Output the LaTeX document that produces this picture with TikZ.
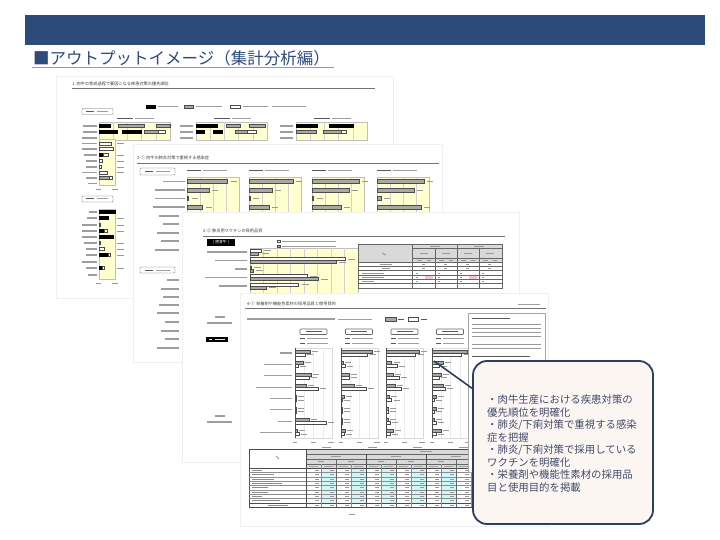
\documentclass[tikz,border=0pt]{standalone}
\usepackage{fontspec}
\setmainfont{Noto Sans CJK JP}
\definecolor{banner}{HTML}{2C4A7C}
\definecolor{ttl}{HTML}{2F4B7C}
\definecolor{uline}{HTML}{8D9BB5}
\definecolor{cfill}{HTML}{FCF6F2}
\definecolor{cedge}{HTML}{2B3E63}
\definecolor{ctext}{HTML}{404B69}
\definecolor{pyel}{HTML}{FFFFD0}
\definecolor{bargray}{HTML}{A8A8A8}
\definecolor{cyancell}{HTML}{CFF7F7}
\definecolor{pinkcell}{HTML}{F7C4CC}
\definecolor{hdr}{HTML}{D9D9D9}
\tikzset{
  pagebox/.style={fill=white, draw=black!6, line width=0.6pt},
  ink/.style={draw=black!38, line width=1.3pt},
  inkd/.style={draw=black!65, line width=1.3pt},
  inkt/.style={draw=black!40, line width=0.9pt},
  secline/.style={draw=black!55, line width=1.3pt},
  yelpanel/.style={fill=pyel, draw=black!25, line width=0.3pt},
  gridl/.style={draw=black!18, line width=0.3pt},
  gbar/.style={fill=bargray, draw=black!70, line width=0.4pt},
  wbar/.style={fill=white, draw=black!70, line width=0.4pt},
  kbar/.style={fill=black, draw=black, line width=0.4pt},
  tinytxt/.style={font=\fontsize{4.2}{5}\selectfont, text=black!75, inner sep=0pt, anchor=base west},
  lbox/.style={draw=black!60, fill=white, rounded corners=0.8pt, line width=0.4pt},
  calltxt/.style={font=\fontsize{10.4}{12.5}\selectfont, text=ctext, inner sep=0pt, anchor=base west},
}
\begin{document}
\begin{tikzpicture}[x=1pt,y=-1pt]
\useasboundingbox (0,0) rectangle (720,540);
\fill[white] (0,0) rectangle (720,540);
% ---------------- header ----------------
\fill[banner] (25,15.5) rectangle (705,45.5);
\node[font=\fontsize{16.5}{16.5}\selectfont, text=ttl, anchor=base west, inner sep=0pt] (title) at (33,64.3) {■アウトプットイメージ（集計分析編）};
\draw[uline, line width=1.2pt] (32,67.2) -- (334,67.2);

% ---------------- page 1 ----------------
\draw[pagebox] (56,76) rectangle (393,298);
\node[tinytxt] (p1t) at (72,85.6) {1.\ 肉牛の育成過程で要因となる疾患対策の優先順位};
\draw[secline] (72,88.8) -- (375,88.8);
% legend
\draw[kbar] (146,105) rectangle (155,108.5);
\draw[ink] (158,106.7) -- (178,106.7);
\draw[gbar] (184,105) rectangle (193,108.5);
\draw[ink] (196,106.7) -- (222,106.7);
\draw[wbar] (230,105) rectangle (240,108.5);
\draw[ink] (243,106.7) -- (268,106.7);
\draw[ink] (272,106.7) -- (306,106.7);
% group box 1
\draw[lbox] (82,108.5) rectangle (113,114.5);
\draw[inkd, line width=1pt] (86,111.5) -- (94,111.5);
\draw[ink, line width=1pt] (97,111.5) -- (108,111.5);
% three stacked charts
\foreach \x in {99,196,296}{
  \draw[inkd, line width=1pt] (\x+18,118.5) -- (\x+34,118.5);
  \draw[ink, line width=1pt] (\x+36,118.5) -- (\x+55,118.5);
  \draw[yelpanel] (\x,122) rectangle ++(71,18);
  \foreach \k in {1,...,4} \draw[gridl] (\x+14.2*\k,122) -- ++(0,18);
  \foreach \y in {126,132,138} \draw[ink, line width=1.1pt] (\x-16,\y) -- (\x-3,\y);
}
\foreach \x/\y/\a/\b/\s in {
  99/124.5/0/.16/kbar, 99/124.5/.27/.64/gbar, 99/124.5/.80/1/gbar,
  99/130.5/0/.25/kbar, 99/130.5/.33/.60/kbar, 99/130.5/.63/.84/gbar, 99/130.5/.84/.93/wbar,
  196/124.5/0/.30/kbar, 196/124.5/.42/.62/gbar, 196/124.5/.75/.97/gbar,
  196/130.5/0/.11/kbar, 196/130.5/.24/.37/kbar, 196/130.5/.55/.72/gbar, 196/130.5/.72/.85/wbar,
  296/124.5/0/.30/kbar, 296/124.5/.47/.80/kbar,
  296/130.5/0/.28/gbar, 296/130.5/.38/.63/gbar, 296/130.5/.63/.70/wbar}
  \draw[\s] (\x+71*\a,\y) rectangle (\x+71*\b,\y+3);
% left column group 1
\foreach \y/\l in {126/8,132/10,138/15,143.5/15,149/15,155/13,161/11,167/11,172.5/15,178/11,183.5/9}
  \draw[ink, line width=1.1pt] (97-\l,\y) -- (97,\y);
\draw[yelpanel] (99,139) rectangle (115,185);
\foreach \y/\a/\b/\s in {143.5/0/.75/wbar, 149/0/.9/wbar, 155/0/.25/kbar, 155/.25/.55/wbar,
  161/0/.2/wbar, 167/0/.15/wbar, 172.5/0/.5/wbar, 178/0/.65/gbar, 178/.65/.8/wbar}
  \draw[\s] (99+16*\a,\y-1.5) rectangle (99+16*\b,\y+1.5);
\foreach \y in {143.5,155,161,167,172.5} \draw[inkt] (117,\y) -- (124,\y);
\draw[inkt] (96,189.5) -- (101,189.5); \draw[inkt] (112,189.5) -- (118,189.5);
% group box 2
\draw[lbox] (82,196) rectangle (113,202);
\draw[inkd, line width=1pt] (86,199) -- (94,199);
\draw[ink, line width=1pt] (97,199) -- (108,199);
\foreach \y/\l in {212/8,218/10,225/15,231/15,237/15,243/13,249/11,255/11,262/15,268/11,275/9}
  \draw[ink, line width=1.1pt] (97-\l,\y) -- (97,\y);
\draw[yelpanel] (99,209) rectangle (115,279);
\foreach \y/\a/\b/\s in {212/0/1/kbar, 218/0/.55/kbar, 225/0/.1/wbar, 231/0/.3/kbar, 231/.3/.5/wbar,
  237/0/.9/kbar, 243/0/.1/wbar, 249/0/.35/wbar, 255/0/.55/kbar, 255/.55/.7/wbar,
  268/0/.2/kbar, 268/.2/.35/wbar}
  \draw[\s] (99+16*\a,\y-1.5) rectangle (99+16*\b,\y+1.5);
\foreach \y in {218,225,231,243,249,255,268} \draw[inkt] (117,\y) -- (124,\y);
\draw[inkt] (96,283.5) -- (101,283.5); \draw[inkt] (112,283.5) -- (118,283.5);

% ---------------- page 2 ----------------
\draw[pagebox] (133,144) rectangle (442,362);
\node[tinytxt] (p2t) at (137,160) {2-① 肉牛の肺炎対策で重視する感染症};
\draw[secline] (137,163.2) -- (439,163.2);
\draw[lbox] (140,168) rectangle (175,175);
\draw[inkd, line width=1pt] (145,171.5) -- (153,171.5);
\draw[ink, line width=1pt] (156,171.5) -- (170,171.5);
\foreach \x/\a/\b/\c/\d in {187/.78/.42/.03/.30, 249/.85/.44/.02/.38, 312/.9/.72/.03/.56, 377/.9/.72/.08/.85}{
  \draw[inkd, line width=1pt] (\x,171) -- (\x+14,171);
  \draw[ink, line width=1pt] (\x+16,171) -- (\x+40,171);
  \draw[yelpanel] (\x,177) rectangle ++(52,35);
  \foreach \k in {1,2,3} \draw[gridl] (\x+13*\k,177) -- ++(0,35);
  \draw[gbar] (\x,179.5) rectangle (\x+52*\a,183.5);
  \draw[gbar] (\x,188) rectangle (\x+52*\b,192);
  \draw[gbar] (\x,196.5) rectangle (\x+52*\c,200.5);
  \draw[gbar] (\x,205) rectangle (\x+52*\d,209);
  \draw[inkt] (\x+52*\a+3,181.5) -- ++(6,0);
  \draw[inkt] (\x+52*\b+3,190) -- ++(6,0);
  \draw[inkt] (\x+52*\c+3,198.5) -- ++(6,0);
  \draw[inkt] (\x+52*\d+3,207) -- ++(6,0);
}
\foreach \y/\l in {181.5/22,190/30,198.5/30,207/32}
  \draw[ink, line width=1.1pt] (185-\l,\y) -- (185,\y);
\foreach \y/\l in {216/20,224/16,233/22,241/18,250/24}
  \draw[ink, line width=1.1pt] (179-\l,\y) -- (179,\y);
\draw[lbox] (140,267) rectangle (175,273);
\draw[inkd, line width=1pt] (145,270) -- (153,270);
\draw[ink, line width=1pt] (156,270) -- (170,270);
\foreach \y/\l in {280/12,289/18,297/16,305/20,313/22,322/14,331/18,339/14,348/22}
  \draw[ink, line width=1.1pt] (179-\l,\y) -- (179,\y);

% ---------------- page 3 ----------------
\draw[pagebox] (182,212) rectangle (519,462);
\node[tinytxt] (p3t) at (203,233) {2-② 肺炎用ワクチンの採用品目};
\draw[secline] (203,236.2) -- (505,236.2);
\node[fill=black, text=white, font=\fontsize{3.8}{4}\selectfont, minimum width=28pt, minimum height=6.5pt, inner sep=0pt] (p3b) at (221,242.5) {[ 肥育牛 ]};
\draw[wbar] (277,239.8) rectangle (280,242.2);
\draw[ink, line width=1pt] (282,241) -- (336,241);
\draw[gbar] (277,244.8) rectangle (280,247.2);
\draw[ink, line width=1pt] (282,246) -- (336,246);
\draw[yelpanel] (250,248) rectangle (358,293);
\foreach \k in {1,...,7} \draw[gridl] (250+13.5*\k,248) -- (250+13.5*\k,293);
\foreach \y/\w/\g/\l in {252/.1/.08/40, 260.5/.88/.8/32, 269/.01/.03/12, 277.5/.53/.63/42, 286/.45/.15/28}{
  \draw[wbar] (250,\y-3) rectangle (250+108*\w,\y);
  \draw[gbar] (250,\y) rectangle (250+108*\g,\y+3);
  \draw[inkt] (250+108*\w+3,\y-1.5) -- ++(7,0);
  \draw[inkt] (250+108*\g+3,\y+1.5) -- ++(7,0);
  \draw[ink, line width=1.1pt] (247-\l,\y) -- (247,\y);
}
% page 3 table
\draw[fill=hdr, draw=black!60, line width=0.4pt] (358,244) rectangle (502,262);
\draw[fill=white, draw=black!60, line width=0.4pt] (358,262) rectangle (502,288);
\fill[pinkcell] (425,275.3) rectangle (433,279);
\fill[pinkcell] (469,275.3) rectangle (477,279);
\draw[black!60, line width=0.4pt] (412,244) -- (412,288);
\draw[black!60, line width=0.7pt] (457,244) -- (457,288);
\draw[black!60, line width=0.4pt] (435,248) -- (435,288) (479,248) -- (479,288);
\draw[black!60, line width=0.4pt] (412,248) -- (502,248) (412,258) -- (502,258);
\foreach \y in {262,266,270,275,279,283} \draw[black!60, line width=0.4pt] (358,\y) -- (502,\y);
\foreach \x in {424,446,468,490} {
  \draw[inkt] (\x-4,253) -- (\x+4,253);
  \draw[inkt] (\x-7,260) -- (\x-2,260); \draw[inkt] (\x+3,260) -- (\x+7,260);
  \draw[inkt] (\x-2,264) -- (\x+1,264); \draw[inkt] (\x-2,268) -- (\x+1,268);
  \draw[inkt] (\x-8,273) -- (\x-6,273); \draw[inkt] (\x-8,277) -- (\x-6,277); \draw[inkt] (\x-8,281) -- (\x-6,281);
}
\draw[inkt] (430,246) -- (440,246); \draw[inkt] (474,246) -- (484,246);
\draw[inkt] (382,253) -- (386,255);
\draw[inkt] (380,264) -- (392,264); \draw[inkt] (382,268) -- (390,268);
\draw[inkt] (362,273) -- (384,273); \draw[inkt] (362,277) -- (384,277); \draw[inkt] (362,281) -- (374,281);
% page 3 left column
\draw[ink, line width=1.1pt] (215,317) -- (225,317);
\draw[ink, line width=1.1pt] (207,323) -- (232,323);
\fill[black] (206,337) rectangle (228,342);
\draw[black!10, line width=0.9pt] (209,339.5) -- (212,339.5) (215,339.5) -- (225,339.5);
\draw[ink, line width=1.1pt] (215,416) -- (225,416);
\draw[ink, line width=1.1pt] (207,422) -- (232,422);

% ---------------- page 4 ----------------
\draw[pagebox] (240,293) rectangle (548,526);
\node[tinytxt] (p4t) at (247,305) {4-① 栄養剤や機能性素材の採用品目と使用目的};
\draw[secline] (245,308.8) -- (546,308.8);
\draw[ink, line width=0.9pt] (518,304.8) -- (540,304.8);
\draw[ink, line width=1.1pt] (247,319) -- (335,319);
\draw[ink, line width=0.9pt] (338,319) -- (372,319);
\draw[gbar] (385,317.4) rectangle (396,321);
\draw[inkd, line width=1pt] (398,319.2) -- (404,319.2);
\draw[wbar] (408,317.4) rectangle (418,321);
\draw[inkd, line width=1pt] (421,319.2) -- (427,319.2);
% chart headers
\foreach \cx in {313.5,359,404.5,450}{
  \draw[lbox, line width=0.6pt] (\cx-13.5,329) rectangle (\cx+13.5,334.5);
  \draw[inkd, line width=1pt] (\cx-8,331.7) -- (\cx+8,331.7);
  \draw[inkd, line width=1pt] (\cx-14,338.5) -- (\cx-9,338.5);
  \draw[ink, line width=1pt] (\cx-7,338.5) -- (\cx+14,338.5);
  \draw[inkd, line width=1pt] (\cx-14,343) -- (\cx-9,343);
  \draw[ink, line width=1pt] (\cx-7,343) -- (\cx+14,343);
}
% four charts
\foreach \x/\gl/\wl in {
  295/{.40,.22,.43,.30,.04,.02,.38,.05}/{.28,.08,.38,.62,.02,.02,.85,.12},
  341/{.85,.05,.22,.35,.08,.02,.02,.10}/{.72,.12,.22,.68,.02,.02,.02,.08},
  386/{.90,.15,.20,.25,.08,.05,.05,.20}/{.80,.30,.35,.40,.15,.05,.10,.10},
  432/{.95,.30,.25,.30,.10,.10,.05,.25}/{.80,.20,.20,.35,.05,.05,.10,.10}}{
  \draw[fill=white, draw=black!15, line width=0.4pt] (\x,348) rectangle ++(37,90);
  \foreach \k in {1,2,3} \draw[draw=black!8, line width=0.3pt] (\x+9.25*\k,348) -- ++(0,90);
  \draw[black!70, line width=0.6pt] (\x,348) -- (\x,438);
  \foreach \g [count=\r] in \gl {
    \pgfmathsetmacro\c{353+(\r-1)*11.35}
    \draw[gbar] (\x,\c-3) rectangle (\x+37*\g,\c);
    \draw[inkt] (\x+37*\g+2,\c-1.6) -- ++(6,0);
  }
  \foreach \w [count=\r] in \wl {
    \pgfmathsetmacro\c{353+(\r-1)*11.35}
    \draw[wbar] (\x,\c) rectangle (\x+37*\w,\c+3);
    \draw[inkt] (\x+37*\w+2,\c+1.6) -- ++(6,0);
  }
  \draw[inkt] (\x-2,442.5) -- (\x+2,442.5);
  \draw[inkt] (\x+16,442.5) -- (\x+21,442.5);
  \draw[inkt] (\x+33,442.5) -- (\x+39,442.5);
  \draw[inkt] (\x+27,447) -- (\x+36,447);
}
\foreach \r/\l in {1/12,2/28,3/28,4/36,5/22,6/22,7/14,8/32}
  \draw[ink, line width=1.1pt] (292-\l,353+\r*11.35-11.35) -- (292,353+\r*11.35-11.35);
% page 4 table
\draw[fill=white, draw=black!70, line width=0.5pt] (249,449.5) rectangle (546,507);
\fill[hdr] (306,449.5) rectangle (546,468);
\foreach \gx in {306,366,426,486}{
  \fill[cyancell] (\gx+15,468) rectangle (\gx+30,503);
  \fill[cyancell] (\gx+45,468) rectangle (\gx+60,503);
}
\draw[black!60, line width=0.4pt] (306,454) -- (546,454) (306,459) -- (546,459) (306,464) -- (546,464);
\draw[black!70, line width=0.5pt] (249,468) -- (546,468);
\foreach \r in {1,...,7} \draw[black!45, line width=0.3pt] (249,468+4.375*\r) -- (546,468+4.375*\r);
\draw[black!70, line width=0.6pt] (249,503) -- (546,503);
\draw[black!70, line width=0.6pt] (306,449.5) -- (306,507);
\foreach \gx in {366,426,486} \draw[black!70, line width=0.6pt] (\gx,454) -- (\gx,507);
\foreach \gx in {336,396,456,516} \draw[black!60, line width=0.4pt] (\gx,459) -- (\gx,507);
\foreach \gx in {321,351,381,411,441,471,501,531} \draw[black!45, line width=0.3pt] (\gx,464) -- (\gx,507);
\draw[inkt] (420,451.8) -- (432,451.8);
\foreach \gx in {336,396,456,516} \draw[inkt] (\gx-5,456.5) -- (\gx+5,456.5);
\foreach \gx in {321,351,381,411,441,471,501,531} \draw[inkt] (\gx-3,461.5) -- (\gx+3,461.5);
\foreach \k in {0,...,15} \draw[draw=black!35, line width=0.7pt] (306+15*\k+3,466) -- (306+15*\k+12,466);
\foreach \k in {0,...,15}{
  \foreach \r in {1,...,8}{
    \draw[draw=black!40, line width=0.8pt] (306+15*\k+9,468+4.375*\r-2.2) -- (306+15*\k+13,468+4.375*\r-2.2);
  }
  \draw[draw=black!40, line width=0.8pt] (306+15*\k+9,505) -- (306+15*\k+13,505);
}
\draw[inkt] (276,456) -- (279,459);
\foreach \r/\l in {1/10,2/22,3/22,4/30,5/16,6/16,7/10,8/28}
  \draw[draw=black!45, line width=0.8pt] (252,468+4.375*\r-2.2) -- (252+\l,468+4.375*\r-2.2);
\draw[draw=black!45, line width=0.8pt] (268,505) -- (288,505);
\draw[inkt] (349,514.5) -- (355,514.5);
% right text column
\draw[fill=white, draw=black!35, line width=0.4pt] (468,313) rectangle (545,472);
\draw[inkd, line width=1pt] (472,318) -- (510,318);
\foreach \y in {324,328,332,336,344,348} \draw[inkt] (472,\y) -- (541,\y);
\draw[inkd, line width=1pt] (472,356) -- (530,356);

% ---------------- callout ----------------
\coordinate (tip) at (434,361);
\coordinate (tailend) at (480,394);
\draw[cedge, line width=1.6pt] (tip) -- (tailend);
\node[draw=cedge, fill=cfill, line width=1.8pt, rounded corners=14pt, minimum width=180pt, minimum height=163pt, inner sep=0pt] (callout) at (563,442.5) {};
\node[calltxt] (l1) at (487,403.8) {・肉牛生産における疾患対策の};
\node[calltxt] (l2) at (487,416.3) {優先順位を明確化};
\node[calltxt] (l3) at (487,428.8) {・肺炎/下痢対策で重視する感染};
\node[calltxt] (l4) at (487,441.3) {症を把握};
\node[calltxt] (l5) at (487,453.8) {・肺炎/下痢対策で採用している};
\node[calltxt] (l6) at (487,466.3) {ワクチンを明確化};
\node[calltxt] (l7) at (487,478.8) {・栄養剤や機能性素材の採用品};
\node[calltxt] (l8) at (487,491.3) {目と使用目的を掲載};
\end{tikzpicture}
\end{document}
